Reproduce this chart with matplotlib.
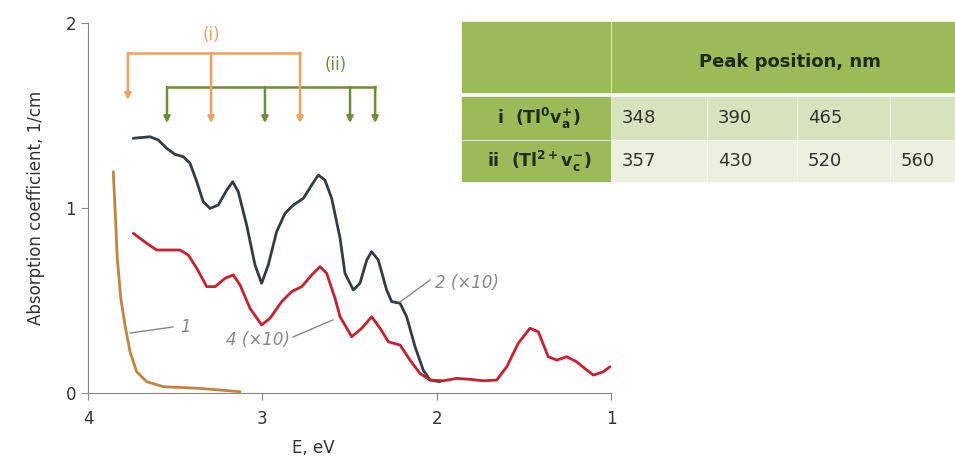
import matplotlib.pyplot as plt
from matplotlib.patches import Rectangle

# curve 1
E1 = [3.855, 3.845, 3.832, 3.812, 3.788, 3.759, 3.721, 3.663, 3.568, 3.358, 3.128]
A1 = [1.196, 0.998, 0.728, 0.512, 0.368, 0.223, 0.115, 0.061, 0.034, 0.025, 0.007]

# curve 2 (x10)
E2 = [3.740, 3.644, 3.597, 3.549, 3.501, 3.453, 3.415, 3.376, 3.339, 3.300,
      3.253, 3.204, 3.170, 3.138, 3.090, 3.042, 3.004, 2.966, 2.918, 2.870,
      2.822, 2.765, 2.717, 2.679, 2.641, 2.602, 2.554, 2.526, 2.478, 2.440,
      2.401, 2.373, 2.335, 2.287, 2.258, 2.210, 2.172, 2.124, 2.077, 2.038,
      1.981]
A2 = [1.377, 1.385, 1.368, 1.323, 1.290, 1.277, 1.242, 1.142, 1.034, 0.998,
      1.016, 1.097, 1.142, 1.088, 0.908, 0.692, 0.593, 0.692, 0.872, 0.971,
      1.016, 1.052, 1.124, 1.178, 1.151, 1.052, 0.836, 0.647, 0.557, 0.593,
      0.719, 0.764, 0.719, 0.557, 0.494, 0.485, 0.412, 0.250, 0.124, 0.070,
      0.061]

# curve 4 (x10)
E4 = [3.740, 3.663, 3.606, 3.549, 3.472, 3.425, 3.376, 3.319, 3.271, 3.214,
      3.167, 3.128, 3.071, 3.004, 2.956, 2.889, 2.832, 2.774, 2.717, 2.669,
      2.631, 2.583, 2.554, 2.487, 2.430, 2.373, 2.325, 2.277, 2.210, 2.153,
      2.096, 2.038, 1.962, 1.885, 1.809, 1.732, 1.656, 1.598, 1.532, 1.465,
      1.417, 1.360, 1.311, 1.254, 1.197, 1.139, 1.101, 1.044, 1.006]
A4 = [0.863, 0.809, 0.773, 0.773, 0.773, 0.746, 0.674, 0.575, 0.575, 0.620,
      0.638, 0.584, 0.458, 0.368, 0.404, 0.494, 0.548, 0.575, 0.638, 0.683,
      0.647, 0.512, 0.412, 0.304, 0.350, 0.412, 0.350, 0.277, 0.259, 0.178,
      0.106, 0.070, 0.066, 0.079, 0.074, 0.066, 0.070, 0.142, 0.269, 0.350,
      0.331, 0.196, 0.178, 0.196, 0.169, 0.124, 0.097, 0.115, 0.142]

# peak markers drawn on the plot (eV)
PEAKS_I = [3.771, 3.294, 2.784]
PEAKS_II = [3.547, 2.985, 2.497, 2.353]

# table
ROW_LABELS = [r"i  (Tl$^{\mathbf{0}}$v$_{\mathbf{a}}^{\mathbf{+}}$)",
              r"ii  (Tl$^{\mathbf{2+}}$v$_{\mathbf{c}}^{\mathbf{-}}$)"]
PEAK_NM_I = ["348", "390", "465", ""]
PEAK_NM_II = ["357", "430", "520", "560"]

ORANGE = "#f0a060"
GREEN = "#6b8e3a"
GRAY = "#888888"
TXT = "#333333"

plt.rcParams["font.family"] = "DejaVu Sans"
plt.rcParams["mathtext.fontset"] = "dejavusans"

fig = plt.figure(figsize=(9.55, 4.57), dpi=100)
ax = fig.add_axes([88 / 955, 1 - 393 / 457, 523 / 955, 370 / 457])

kw = dict(lw=2, solid_joinstyle="round", solid_capstyle="round")
ax.plot(E1, A1, color="#c5843c", **kw)
ax.plot(E2, A2, color="#2f3d48", **kw)
ax.plot(E4, A4, color="#cc1f2a", **kw)

ax.set_xlim(4, 1)
ax.set_ylim(0, 2)
ax.set_xticks([4, 3, 2, 1])
ax.set_yticks([0, 1, 2])
for s in ["top", "right"]:
    ax.spines[s].set_visible(False)
for s in ["left", "bottom"]:
    ax.spines[s].set_color("#888888")
ax.tick_params(direction="out", length=5, color="#888888", labelsize=12,
               labelcolor=TXT)
ax.tick_params(axis="x", pad=7)
ax.set_xlabel("E, eV", fontsize=12, color=TXT)
ax.set_ylabel("Absorption coefficient, 1/cm", fontsize=12, color=TXT)
ax.xaxis.set_label_coords(0.43, -0.125)
ax.yaxis.set_label_coords(-0.082, 0.5)

# peak brackets
yi, yii, yend = 1.838, 1.654, 1.459
ax.plot([PEAKS_I[0], PEAKS_I[-1]], [yi, yi], color=ORANGE, lw=1.8)
for k, e in enumerate(PEAKS_I):
    bottom = 1.584 if k == 0 else yend
    ax.annotate("", xy=(e, bottom), xytext=(e, yi),
                arrowprops=dict(arrowstyle="-|>", color=ORANGE, lw=1.8,
                                mutation_scale=9, shrinkA=0, shrinkB=0))
ax.plot([PEAKS_II[0], PEAKS_II[-1]], [yii, yii], color=GREEN, lw=1.8)
for e in PEAKS_II:
    ax.annotate("", xy=(e, yend), xytext=(e, yii),
                arrowprops=dict(arrowstyle="-|>", color=GREEN, lw=1.8,
                                mutation_scale=9, shrinkA=0, shrinkB=0))
ax.text(PEAKS_I[1], 1.935, "(i)", color=ORANGE, ha="center", va="center",
        fontsize=12)
ax.text(2.58, 1.773, "(ii)", color=GREEN, ha="center", va="center",
        fontsize=12)

# curve labels
ax.plot([3.759, 3.512], [0.324, 0.357], color=GRAY, lw=1)
ax.text(3.438, 0.357, "1", color=GRAY, style="italic", fontsize=12,
        va="center", ha="center")
ax.plot([2.824, 2.595], [0.303, 0.395], color=GRAY, lw=1)
ax.text(2.841, 0.286, "4 (×10)", color=GRAY, style="italic", fontsize=12,
        va="center", ha="right")
ax.plot([2.210, 2.038], [0.492, 0.611], color=GRAY, lw=1)
ax.text(2.01, 0.595, "2 (×10)", color=GRAY, style="italic", fontsize=12,
        va="center", ha="left")

# table in pixel coordinates
tx = fig.add_axes([0, 0, 1, 1])
tx.set_xlim(0, 955)
tx.set_ylim(457, 0)
tx.axis("off")
tx.patch.set_alpha(0)

HEAD = "#9bbb59"
ROW1 = "#d6e3bd"
ROW2 = "#ebf1de"
tx.add_patch(Rectangle((462, 22), 148, 70, color=HEAD))
tx.add_patch(Rectangle((612, 22), 343, 70, color=HEAD))
tx.text(790, 62, "Peak position, nm", ha="center", va="center",
        fontsize=13, weight="bold", color="#1f2a10")

col_x = [612, 708, 798, 891]
col_w = [94, 88, 91, 64]
rows = [(97, 42, ROW1, ROW_LABELS[0], PEAK_NM_I),
        (141, 40, ROW2, ROW_LABELS[1], PEAK_NM_II)]
for y0, h, bg, label, vals in rows:
    tx.add_patch(Rectangle((462, y0), 148, h, color=HEAD))
    tx.text(539, y0 + h / 2, label, ha="center", va="center", fontsize=12.5,
            weight="bold", color="#1f2a10")
    for cx, cw, v in zip(col_x, col_w, vals):
        tx.add_patch(Rectangle((cx, y0), cw, h, color=bg))
        tx.text(cx + 10, y0 + h / 2, v, ha="left", va="center", fontsize=13,
                color=TXT)

fig.savefig("out.png", dpi=100)
